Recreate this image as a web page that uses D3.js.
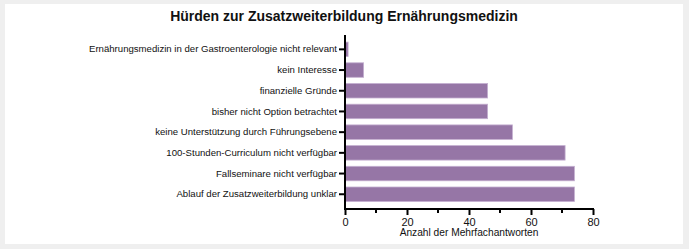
<!DOCTYPE html>
<html>
<head>
    <meta http-equiv="Content-Type" content="text/html;charset=utf8" />
    <title>Hürden zur Zusatzweiterbildung</title>
    <script src="https://d3js.org/d3.v7.min.js"></script>
    <style>
        body { margin: 0; background: #efefef; font-family: "Liberation Sans", Arial, sans-serif; }
        svg { display: block; }
    </style>
</head>
<body>

<div id="chart"></div>

<script>
    // categories, top to bottom
    var categories = [
        "Ernährungsmedizin in der Gastroenterologie nicht relevant",
        "kein Interesse",
        "finanzielle Gründe",
        "bisher nicht Option betrachtet",
        "keine Unterstützung durch Führungsebene",
        "100-Stunden-Curriculum nicht verfügbar",
        "Fallseminare nicht verfügbar",
        "Ablauf der Zusatzweiterbildung unklar"
    ];
    var counts = [1, 6, 46, 46, 54, 71, 74, 74];
    var xTicks = [0, 20, 40, 60, 80];
    var xMinorTicks = [10, 30, 50, 70];

    var W = 689, H = 249;
    var svg = d3.select("#chart").append("svg").attr("width", W).attr("height", H);

    // white panel
    svg.append("rect").attr("x", 5).attr("y", 4).attr("width", 678).attr("height", 240).attr("fill", "#fff");

    var x = d3.scaleLinear().domain([0, 80]).range([345, 593]);
    var y = d3.scaleBand().domain(categories).range([39, 204.6]).paddingInner(0.3).paddingOuter(0.15);
    var axisY = 209;

    svg.append("text")
        .attr("x", 344).attr("y", 21)
        .attr("text-anchor", "middle")
        .attr("font-size", 14).attr("font-weight", "bold")
        .attr("fill", "#111")
        .text("Hürden zur Zusatzweiterbildung Ernährungsmedizin");

    // bars
    svg.selectAll("rect.bar").data(categories).enter()
        .append("rect")
        .attr("class", "bar")
        .attr("x", x(0))
        .attr("y", function(d) { return y(d); })
        .attr("width", function(d, i) { return x(counts[i]) - x(0); })
        .attr("height", y.bandwidth())
        .attr("fill", "#9676a6")
        .attr("stroke", "#c4afd0")
        .attr("stroke-width", 0.8);

    // y axis
    var gy = svg.append("g").attr("transform", "translate(" + x(0) + ",0)")
        .call(d3.axisLeft(y).tickSize(6).tickSizeOuter(0).tickPadding(2));
    gy.select(".domain").remove();
    gy.selectAll(".tick line").attr("stroke", "#000").attr("stroke-width", 2);
    gy.selectAll(".tick text").attr("font-size", 9.6).attr("fill", "#111")
        .attr("font-family", "Liberation Sans, Arial, sans-serif");

    // x axis
    var gx = svg.append("g").attr("transform", "translate(0," + axisY + ")")
        .call(d3.axisBottom(x).tickValues(xTicks).tickSize(6).tickSizeOuter(0).tickPadding(3));
    gx.select(".domain").remove();
    gx.selectAll(".tick line").attr("stroke", "#000").attr("stroke-width", 2);
    gx.selectAll(".tick text").attr("font-size", 11).attr("fill", "#111")
        .attr("font-family", "Liberation Sans, Arial, sans-serif");

    svg.append("g").selectAll("line").data(xMinorTicks).enter()
        .append("line")
        .attr("x1", function(d) { return x(d); }).attr("x2", function(d) { return x(d); })
        .attr("y1", axisY).attr("y2", axisY + 4)
        .attr("stroke", "#000").attr("stroke-width", 2);

    // axis lines
    svg.append("line").attr("x1", x(0)).attr("x2", x(0)).attr("y1", 35).attr("y2", axisY + 1)
        .attr("stroke", "#000").attr("stroke-width", 2);
    svg.append("line").attr("x1", x(0) - 1).attr("x2", x(80) + 1).attr("y1", axisY).attr("y2", axisY)
        .attr("stroke", "#000").attr("stroke-width", 2);

    svg.append("text")
        .attr("x", x(40)).attr("y", 236)
        .attr("text-anchor", "middle")
        .attr("font-size", 10.2).attr("fill", "#111")
        .text("Anzahl der Mehrfachantworten");
</script>

</body>
</html>
